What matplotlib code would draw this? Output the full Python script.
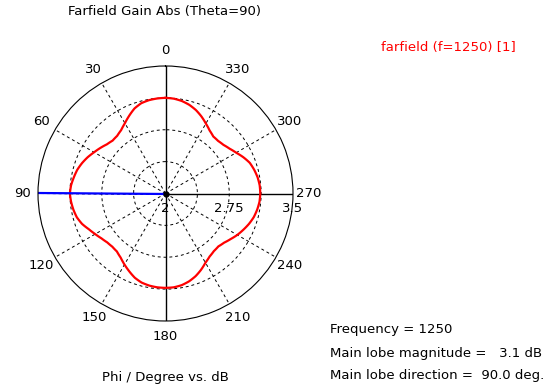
import numpy as np
import matplotlib
matplotlib.use("Agg")
import matplotlib.pyplot as plt
from matplotlib.transforms import offset_copy

# -------------------------
# Data (every 5 degrees)
# -------------------------
phi_deg = list(range(0, 365, 5))
gain_db = [
    # 0 .. 85
    3.125, 3.122, 3.115, 3.10, 3.065, 3.01, 2.955, 2.91, 2.885, 2.88,
    2.90, 2.935, 2.97, 3.01, 3.045, 3.075, 3.095, 3.115,
    # 90 .. 175
    3.125, 3.115, 3.10, 3.08, 3.045, 2.995, 2.955, 2.92, 2.895, 2.885,
    2.89, 2.92, 2.965, 3.01, 3.055, 3.085, 3.10, 3.108,
    # 180 .. 265
    3.11, 3.108, 3.095, 3.07, 3.035, 2.99, 2.94, 2.905, 2.885, 2.88,
    2.90, 2.935, 2.975, 3.01, 3.045, 3.075, 3.095, 3.11,
    # 270 .. 360
    3.115, 3.112, 3.10, 3.08, 3.055, 3.01, 2.96, 2.92, 2.89, 2.875,
    2.875, 2.905, 2.95, 3.0, 3.045, 3.08, 3.105, 3.12, 3.125,
]

angle_ticks = [0, 30, 60, 90, 120, 150, 180, 210, 240, 270, 300, 330]
ring_values = [2.375, 2.75, 3.125]
r_labels = {2: "2", 2.75: "2.75", 3.5: "3.5"}
r_min, r_max = 2.0, 3.5

main_lobe_dir = 90.0
main_lobe_mag = 3.1
frequency = 1250

plt.rcParams["font.family"] = "DejaVu Sans"
plt.rcParams["font.size"] = 9.5

fig = plt.figure(figsize=(5.43, 3.9), dpi=100)
cx, cy, rad = 165.5, 193.5, 127.5
W, H = 543, 390
ax = fig.add_axes([(cx - rad) / W, (H - cy - rad) / H, 2 * rad / W, 2 * rad / H],
                  projection="polar")

ax.set_theta_zero_location("N")
ax.set_theta_direction(1)
ax.set_rlim(r_min, r_max)

# grid
ax.set_thetagrids(angle_ticks, [str(a) for a in angle_ticks])
ax.set_yticks(ring_values)
ax.set_yticklabels([])
ax.grid(True, color="black", linestyle=(0, (3, 3)), linewidth=0.7)
ax.spines["polar"].set_linewidth(0.8)
ax.tick_params(axis="x", pad=1, colors="black")

# solid cross through the centre
for a in [0, 180, 270]:
    ax.plot(np.radians([a, a]), [r_min, r_max], color="black", lw=1.0)

# pattern (drawn as arcs between the read points)
line, = ax.plot(np.radians(phi_deg), gain_db, color="#ff0000", lw=1.6)
line.get_path()._interpolation_steps = 6

# main lobe direction
ax.plot(np.radians([main_lobe_dir, main_lobe_dir]), [r_min, r_max], color="#0000ff", lw=1.6)
ax.plot([0], [r_min], marker="o", color="black", ms=3.5)

# radial labels below the 270 axis
off = offset_copy(ax.transData, fig=fig, x=0, y=-8, units="dots")
for rv, txt in r_labels.items():
    ax.text(np.radians(270), rv, txt, transform=off, ha="center", va="top")

# texts
fig.text(165 / W, 1 - 12 / H, "Farfield Gain Abs (Theta=90)", ha="center", va="center")
fig.text(448 / W, 1 - 48 / H, "farfield (f=1250) [1]", ha="center", va="center", color="#ff0000")
fig.text(165 / W, 1 - 377 / H, "Phi / Degree vs. dB", ha="center", va="center")
fig.text(330 / W, 1 - 330 / H, f"Frequency = {frequency}", ha="left", va="center")
fig.text(330 / W, 1 - 353 / H, f"Main lobe magnitude =   {main_lobe_mag:.1f} dB", ha="left", va="center")
fig.text(330 / W, 1 - 375 / H, f"Main lobe direction =  {main_lobe_dir:.1f} deg.", ha="left", va="center")

fig.savefig("out.png", dpi=100)
